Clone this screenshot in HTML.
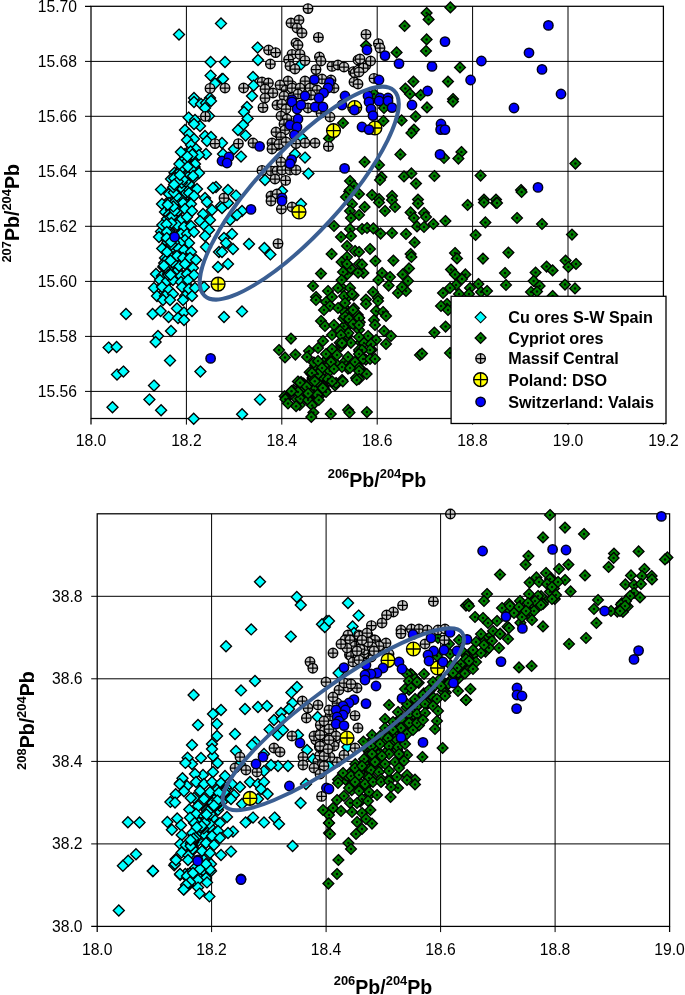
<!DOCTYPE html>
<html><head><meta charset="utf-8"><title>Pb isotope plots</title>
<style>
html,body{margin:0;padding:0;background:#fff}
svg{display:block}
text{font-family:"Liberation Sans",Arial,Helvetica,sans-serif;fill:#000}
.tk{font-size:15.7px}
.ti{font-size:19.6px;font-weight:bold}
.su{font-size:12.9px;font-weight:bold}
.lg{font-size:16.2px;font-weight:bold}
</style></head><body>
<svg width="685" height="995" viewBox="0 0 685 995">
<defs>
<path id="d" d="M0,-5.5L5.5,0L0,5.5L-5.5,0Z"/>
<g id="gd"><path d="M0,-5.4L5.4,0L0,5.4L-5.4,0Z" fill="#008000" stroke="#000" stroke-width="1.35"/><circle r="1.25" fill="#001000"/></g>
<g id="mc"><circle r="4.75" fill="#c8c8c8" stroke="#000" stroke-width="1.4"/><path d="M-4.75,0H4.75M0,-4.75V4.75" stroke="#000" stroke-width="1.25" fill="none"/></g>
<g id="yc"><circle r="6.9" fill="#ffff00" stroke="#000" stroke-width="1.4"/><path d="M-6.9,0H6.9M0,-6.9V6.9" stroke="#000" stroke-width="1.3" fill="none"/></g>
<clipPath id="ct"><rect x="84" y="0" width="590" height="426"/></clipPath>
<clipPath id="cb"><rect x="90" y="505" width="590" height="428"/></clipPath>
</defs>
<rect width="685" height="995" fill="#fff"/>

<g stroke="#000" stroke-width="1" fill="none">
<path d="M186.4,6.3V424.6"/>
<path d="M281.8,6.3V424.6"/>
<path d="M377.2,6.3V424.6"/>
<path d="M472.6,6.3V424.6"/>
<path d="M568,6.3V424.6"/>
<path d="M85,61.4H663.4"/>
<path d="M85,116.3H663.4"/>
<path d="M85,171.3H663.4"/>
<path d="M85,226.3H663.4"/>
<path d="M85,281.4H663.4"/>
<path d="M85,336.4H663.4"/>
<path d="M85,391.4H663.4"/>
</g>
<g stroke="#000" stroke-width="1.25" fill="none">
<rect x="91" y="6.3" width="572.4" height="412.2"/>
<path d="M85,6.3H91 M91,418.6V424.6 M663.4,418.6V424.6"/>
</g>
<g clip-path="url(#ct)">
<g fill="#00ffff" stroke="#000" stroke-width="1.35">
<use href="#d" x="173.9" y="250.7"/>
<use href="#d" x="162.6" y="285.6"/>
<use href="#d" x="192.6" y="168.9"/>
<use href="#d" x="176.8" y="203.9"/>
<use href="#d" x="182.5" y="255.6"/>
<use href="#d" x="182.9" y="225.3"/>
<use href="#d" x="181.3" y="232.3"/>
<use href="#d" x="172.4" y="267.7"/>
<use href="#d" x="177.6" y="177.8"/>
<use href="#d" x="187.2" y="194.7"/>
<use href="#d" x="177.6" y="180.8"/>
<use href="#d" x="175.2" y="186"/>
<use href="#d" x="173.4" y="255.1"/>
<use href="#d" x="189.2" y="185.9"/>
<use href="#d" x="182.3" y="184.8"/>
<use href="#d" x="193.1" y="178.4"/>
<use href="#d" x="185.7" y="196"/>
<use href="#d" x="183.7" y="198.5"/>
<use href="#d" x="164.4" y="282.2"/>
<use href="#d" x="179.2" y="245.6"/>
<use href="#d" x="186.4" y="207.7"/>
<use href="#d" x="174.5" y="254.3"/>
<use href="#d" x="168.4" y="201.5"/>
<use href="#d" x="174.9" y="220"/>
<use href="#d" x="178.7" y="194.4"/>
<use href="#d" x="187" y="241.8"/>
<use href="#d" x="164.2" y="292.7"/>
<use href="#d" x="169.7" y="279.9"/>
<use href="#d" x="177.3" y="212.4"/>
<use href="#d" x="187.8" y="286.1"/>
<use href="#d" x="191.5" y="155.9"/>
<use href="#d" x="171.7" y="194.2"/>
<use href="#d" x="187.7" y="232.4"/>
<use href="#d" x="188.2" y="188.6"/>
<use href="#d" x="188" y="277.4"/>
<use href="#d" x="194.6" y="167.1"/>
<use href="#d" x="185.1" y="248.6"/>
<use href="#d" x="182.8" y="221"/>
<use href="#d" x="169.3" y="213.1"/>
<use href="#d" x="190.5" y="176.7"/>
<use href="#d" x="185.2" y="203.1"/>
<use href="#d" x="176.9" y="275.5"/>
<use href="#d" x="174.5" y="172.7"/>
<use href="#d" x="183.3" y="165"/>
<use href="#d" x="192.1" y="157.6"/>
<use href="#d" x="187.5" y="173.3"/>
<use href="#d" x="180.2" y="192.7"/>
<use href="#d" x="180.4" y="273.5"/>
<use href="#d" x="179" y="34.6"/>
<use href="#d" x="221" y="23.4"/>
<use href="#d" x="210.6" y="62"/>
<use href="#d" x="210.6" y="75.6"/>
<use href="#d" x="215" y="83.6"/>
<use href="#d" x="222" y="79"/>
<use href="#d" x="194" y="98"/>
<use href="#d" x="210" y="98"/>
<use href="#d" x="257.6" y="47.6"/>
<use href="#d" x="258" y="60"/>
<use href="#d" x="225" y="62"/>
<use href="#d" x="223" y="79"/>
<use href="#d" x="253" y="77"/>
<use href="#d" x="253.6" y="85.6"/>
<use href="#d" x="252" y="96"/>
<use href="#d" x="301" y="64.4"/>
<use href="#d" x="194" y="102"/>
<use href="#d" x="201" y="104"/>
<use href="#d" x="206" y="103"/>
<use href="#d" x="211" y="101"/>
<use href="#d" x="205" y="108"/>
<use href="#d" x="188.6" y="117.6"/>
<use href="#d" x="195" y="120"/>
<use href="#d" x="200" y="126"/>
<use href="#d" x="209" y="116"/>
<use href="#d" x="194" y="124"/>
<use href="#d" x="185" y="130"/>
<use href="#d" x="189" y="134"/>
<use href="#d" x="194" y="139"/>
<use href="#d" x="205" y="136"/>
<use href="#d" x="211" y="137"/>
<use href="#d" x="207" y="141"/>
<use href="#d" x="187" y="140"/>
<use href="#d" x="191" y="145"/>
<use href="#d" x="196" y="149"/>
<use href="#d" x="206" y="154"/>
<use href="#d" x="185" y="154"/>
<use href="#d" x="189" y="157"/>
<use href="#d" x="194" y="158"/>
<use href="#d" x="199" y="155"/>
<use href="#d" x="183" y="160"/>
<use href="#d" x="186" y="164"/>
<use href="#d" x="195" y="164"/>
<use href="#d" x="191" y="169"/>
<use href="#d" x="199" y="173"/>
<use href="#d" x="181" y="170"/>
<use href="#d" x="185" y="173"/>
<use href="#d" x="188" y="177"/>
<use href="#d" x="193" y="176"/>
<use href="#d" x="176" y="175"/>
<use href="#d" x="171" y="179"/>
<use href="#d" x="179" y="180"/>
<use href="#d" x="175" y="183"/>
<use href="#d" x="183" y="183"/>
<use href="#d" x="189" y="184"/>
<use href="#d" x="161" y="189.6"/>
<use href="#d" x="173" y="188"/>
<use href="#d" x="178" y="190"/>
<use href="#d" x="185" y="189"/>
<use href="#d" x="197" y="189"/>
<use href="#d" x="216" y="187"/>
<use href="#d" x="213" y="188"/>
<use href="#d" x="169" y="194"/>
<use href="#d" x="177" y="196"/>
<use href="#d" x="183" y="195"/>
<use href="#d" x="189" y="193"/>
<use href="#d" x="194" y="196"/>
<use href="#d" x="205" y="198"/>
<use href="#d" x="181" y="199"/>
<use href="#d" x="247" y="107"/>
<use href="#d" x="244" y="112"/>
<use href="#d" x="247.6" y="118.4"/>
<use href="#d" x="243" y="125"/>
<use href="#d" x="238" y="130"/>
<use href="#d" x="245.6" y="135.6"/>
<use href="#d" x="222" y="143"/>
<use href="#d" x="234" y="149"/>
<use href="#d" x="241" y="156.6"/>
<use href="#d" x="223" y="154"/>
<use href="#d" x="305" y="157.6"/>
<use href="#d" x="308.4" y="173.6"/>
<use href="#d" x="265" y="180"/>
<use href="#d" x="228" y="190"/>
<use href="#d" x="236" y="195.6"/>
<use href="#d" x="302" y="138"/>
<use href="#d" x="295" y="154"/>
<use href="#d" x="282" y="191"/>
<use href="#d" x="162" y="204"/>
<use href="#d" x="169" y="203"/>
<use href="#d" x="176" y="202"/>
<use href="#d" x="183" y="203"/>
<use href="#d" x="191" y="204"/>
<use href="#d" x="207" y="202"/>
<use href="#d" x="221" y="206"/>
<use href="#d" x="165" y="212"/>
<use href="#d" x="171" y="210"/>
<use href="#d" x="178" y="211"/>
<use href="#d" x="185" y="209"/>
<use href="#d" x="192" y="211"/>
<use href="#d" x="203" y="214"/>
<use href="#d" x="212" y="210"/>
<use href="#d" x="167" y="219"/>
<use href="#d" x="174" y="218"/>
<use href="#d" x="181" y="220"/>
<use href="#d" x="187" y="217"/>
<use href="#d" x="210" y="220"/>
<use href="#d" x="200" y="221"/>
<use href="#d" x="177" y="225"/>
<use href="#d" x="184" y="227"/>
<use href="#d" x="191" y="226"/>
<use href="#d" x="205" y="226"/>
<use href="#d" x="209" y="230"/>
<use href="#d" x="161" y="231.6"/>
<use href="#d" x="159" y="237"/>
<use href="#d" x="168" y="233"/>
<use href="#d" x="181" y="234"/>
<use href="#d" x="187" y="234"/>
<use href="#d" x="194" y="232"/>
<use href="#d" x="205" y="236"/>
<use href="#d" x="167" y="240"/>
<use href="#d" x="185" y="240"/>
<use href="#d" x="189" y="243"/>
<use href="#d" x="180" y="243"/>
<use href="#d" x="206" y="247"/>
<use href="#d" x="219" y="252"/>
<use href="#d" x="166" y="251"/>
<use href="#d" x="171" y="249"/>
<use href="#d" x="178" y="248"/>
<use href="#d" x="184" y="250"/>
<use href="#d" x="191" y="252"/>
<use href="#d" x="165" y="258"/>
<use href="#d" x="171" y="257"/>
<use href="#d" x="177" y="256"/>
<use href="#d" x="183" y="258"/>
<use href="#d" x="190" y="258"/>
<use href="#d" x="196" y="260"/>
<use href="#d" x="166" y="264"/>
<use href="#d" x="173" y="265"/>
<use href="#d" x="179" y="266"/>
<use href="#d" x="185" y="264"/>
<use href="#d" x="193" y="268"/>
<use href="#d" x="218" y="267"/>
<use href="#d" x="156" y="274"/>
<use href="#d" x="162" y="276"/>
<use href="#d" x="168" y="274"/>
<use href="#d" x="175" y="273"/>
<use href="#d" x="181" y="276"/>
<use href="#d" x="187" y="274"/>
<use href="#d" x="194" y="275"/>
<use href="#d" x="160" y="280"/>
<use href="#d" x="167" y="281"/>
<use href="#d" x="173" y="280"/>
<use href="#d" x="181" y="282"/>
<use href="#d" x="188" y="280"/>
<use href="#d" x="154" y="288"/>
<use href="#d" x="162" y="287"/>
<use href="#d" x="169" y="290"/>
<use href="#d" x="182" y="287"/>
<use href="#d" x="189" y="289"/>
<use href="#d" x="195" y="288"/>
<use href="#d" x="204" y="287"/>
<use href="#d" x="157" y="296"/>
<use href="#d" x="165" y="296"/>
<use href="#d" x="173" y="294"/>
<use href="#d" x="185" y="296"/>
<use href="#d" x="192" y="296"/>
<use href="#d" x="228" y="203"/>
<use href="#d" x="222" y="208"/>
<use href="#d" x="242" y="211"/>
<use href="#d" x="237" y="215"/>
<use href="#d" x="230" y="220"/>
<use href="#d" x="232" y="234"/>
<use href="#d" x="224" y="238"/>
<use href="#d" x="226" y="243"/>
<use href="#d" x="233" y="249"/>
<use href="#d" x="222" y="252"/>
<use href="#d" x="249" y="244"/>
<use href="#d" x="264.4" y="248"/>
<use href="#d" x="270.4" y="254.4"/>
<use href="#d" x="228" y="264"/>
<use href="#d" x="301" y="204"/>
<use href="#d" x="163" y="300"/>
<use href="#d" x="170" y="300"/>
<use href="#d" x="183" y="300"/>
<use href="#d" x="126" y="314"/>
<use href="#d" x="152.6" y="314"/>
<use href="#d" x="160.6" y="311"/>
<use href="#d" x="168.6" y="317"/>
<use href="#d" x="177" y="308.4"/>
<use href="#d" x="184" y="312.4"/>
<use href="#d" x="192" y="311"/>
<use href="#d" x="178" y="318"/>
<use href="#d" x="184" y="320"/>
<use href="#d" x="171" y="331"/>
<use href="#d" x="158" y="336"/>
<use href="#d" x="155.6" y="342"/>
<use href="#d" x="108.6" y="347.6"/>
<use href="#d" x="116.6" y="347"/>
<use href="#d" x="170" y="360.6"/>
<use href="#d" x="117" y="374.6"/>
<use href="#d" x="123.4" y="371.6"/>
<use href="#d" x="200.4" y="371.6"/>
<use href="#d" x="154" y="385.6"/>
<use href="#d" x="149.4" y="399.6"/>
<use href="#d" x="242" y="311.4"/>
<use href="#d" x="224" y="317"/>
<use href="#d" x="260" y="399.6"/>
<use href="#d" x="112.5" y="407.3"/>
<use href="#d" x="161.1" y="410.2"/>
<use href="#d" x="193.7" y="418.7"/>
<use href="#d" x="242.1" y="414.2"/>
<use href="#d" x="190.6" y="151.5"/>
<use href="#d" x="175.1" y="188.1"/>
<use href="#d" x="176.9" y="188.8"/>
<use href="#d" x="167.5" y="242.3"/>
<use href="#d" x="169.7" y="261.2"/>
<use href="#d" x="179.8" y="187.8"/>
<use href="#d" x="170.8" y="273.8"/>
<use href="#d" x="173.3" y="203.4"/>
<use href="#d" x="182.7" y="160.7"/>
<use href="#d" x="168" y="268.5"/>
<use href="#d" x="168.9" y="214.4"/>
<use href="#d" x="163.2" y="266.9"/>
<use href="#d" x="162.3" y="225.1"/>
<use href="#d" x="170.1" y="217.1"/>
<use href="#d" x="174" y="242.3"/>
<use href="#d" x="169.4" y="230.5"/>
<use href="#d" x="165.2" y="267.4"/>
<use href="#d" x="176.8" y="195.9"/>
<use href="#d" x="168.3" y="275"/>
<use href="#d" x="180.8" y="187.2"/>
<use href="#d" x="180.2" y="171.5"/>
<use href="#d" x="170.5" y="263.1"/>
<use href="#d" x="164.2" y="263"/>
<use href="#d" x="181.8" y="167.9"/>
<use href="#d" x="173.8" y="192.4"/>
<use href="#d" x="185.7" y="181.7"/>
<use href="#d" x="171.4" y="244.5"/>
<use href="#d" x="172" y="216.4"/>
<use href="#d" x="185.2" y="163.3"/>
<use href="#d" x="187.8" y="166.7"/>
<use href="#d" x="167.4" y="259.2"/>
<use href="#d" x="181.8" y="182.7"/>
<use href="#d" x="163.9" y="265.7"/>
<use href="#d" x="180.9" y="152"/>
<use href="#d" x="172.6" y="262.2"/>
<use href="#d" x="192.3" y="154.5"/>
<use href="#d" x="162.2" y="248.4"/>
<use href="#d" x="177.4" y="181"/>
<use href="#d" x="174.7" y="210.8"/>
<use href="#d" x="172.3" y="237"/>
<use href="#d" x="173.3" y="206.4"/>
<use href="#d" x="167" y="251.9"/>
<use href="#d" x="169.7" y="231"/>
<use href="#d" x="183.1" y="179.5"/>
<use href="#d" x="179.4" y="163.9"/>
<use href="#d" x="171.4" y="223"/>
<use href="#d" x="166.5" y="224.2"/>
<use href="#d" x="167.7" y="204.7"/>
<use href="#d" x="170.5" y="260.4"/>
<use href="#d" x="174.2" y="178.3"/>
<use href="#d" x="173.2" y="187.2"/>
<use href="#d" x="171.3" y="234.5"/>
<use href="#d" x="166.8" y="231.9"/>
<use href="#d" x="187.3" y="156.5"/>
<use href="#d" x="166.7" y="238.1"/>
<use href="#d" x="170.8" y="241.9"/>
<use href="#d" x="170.5" y="274.8"/>
<use href="#d" x="177.8" y="181.6"/>
<use href="#d" x="174.1" y="184.6"/>
<use href="#d" x="179.9" y="175"/>
</g>
<g>
<use href="#gd" x="309.7" y="372.3"/>
<use href="#gd" x="299.8" y="405"/>
<use href="#gd" x="308.9" y="388.7"/>
<use href="#gd" x="315.7" y="365.5"/>
<use href="#gd" x="301.5" y="388.6"/>
<use href="#gd" x="329.8" y="361.5"/>
<use href="#gd" x="312.2" y="383.2"/>
<use href="#gd" x="330" y="352.1"/>
<use href="#gd" x="297" y="390.7"/>
<use href="#gd" x="329.4" y="369.9"/>
<use href="#gd" x="340.9" y="346.3"/>
<use href="#gd" x="303.5" y="392.3"/>
<use href="#gd" x="306.1" y="398.8"/>
<use href="#gd" x="308.3" y="385.3"/>
<use href="#gd" x="321.6" y="383.2"/>
<use href="#gd" x="344.7" y="361.7"/>
<use href="#gd" x="293.6" y="389.8"/>
<use href="#gd" x="332" y="357.1"/>
<use href="#gd" x="302.5" y="396.3"/>
<use href="#gd" x="304.7" y="394.4"/>
<use href="#gd" x="313.8" y="387.8"/>
<use href="#gd" x="314.6" y="374.8"/>
<use href="#gd" x="296.8" y="399.1"/>
<use href="#gd" x="335.2" y="362.9"/>
<use href="#gd" x="321.5" y="372.9"/>
<use href="#gd" x="300.4" y="398.7"/>
<use href="#gd" x="326.9" y="359.2"/>
<use href="#gd" x="323.8" y="362.5"/>
<use href="#gd" x="308.4" y="388"/>
<use href="#gd" x="314.3" y="386.3"/>
<use href="#gd" x="328.7" y="362.9"/>
<use href="#gd" x="312.7" y="377.6"/>
<use href="#gd" x="331" y="365.5"/>
<use href="#gd" x="326.5" y="367.7"/>
<use href="#gd" x="320.7" y="376.8"/>
<use href="#gd" x="329.8" y="370.9"/>
<use href="#gd" x="339.7" y="342.7"/>
<use href="#gd" x="315.4" y="365.6"/>
<use href="#gd" x="311.7" y="374.2"/>
<use href="#gd" x="313.8" y="362.5"/>
<use href="#gd" x="343.8" y="326.3"/>
<use href="#gd" x="363.4" y="272.9"/>
<use href="#gd" x="352.1" y="311"/>
<use href="#gd" x="354" y="308.3"/>
<use href="#gd" x="345.9" y="309.4"/>
<use href="#gd" x="348.9" y="313.1"/>
<use href="#gd" x="347.4" y="264.9"/>
<use href="#gd" x="347.5" y="274"/>
<use href="#gd" x="347.2" y="336.3"/>
<use href="#gd" x="342" y="287.7"/>
<use href="#gd" x="352" y="323.2"/>
<use href="#gd" x="353.6" y="295.3"/>
<use href="#gd" x="346.6" y="298"/>
<use href="#gd" x="348.4" y="333.1"/>
<use href="#gd" x="350.6" y="268.4"/>
<use href="#gd" x="343.4" y="318.4"/>
<use href="#gd" x="343.9" y="342.6"/>
<use href="#gd" x="344.9" y="316.3"/>
<use href="#gd" x="341.9" y="309.2"/>
<use href="#gd" x="357.8" y="315"/>
<use href="#gd" x="350.9" y="342.8"/>
<use href="#gd" x="358.1" y="272.7"/>
<use href="#gd" x="312.7" y="378.6"/>
<use href="#gd" x="304" y="384.9"/>
<use href="#gd" x="315.2" y="375.4"/>
<use href="#gd" x="348" y="368.6"/>
<use href="#gd" x="329" y="304.7"/>
<use href="#gd" x="335" y="385.5"/>
<use href="#gd" x="360.8" y="342.5"/>
<use href="#gd" x="370.7" y="341.9"/>
<use href="#gd" x="360.5" y="369.5"/>
<use href="#gd" x="315.3" y="396.6"/>
<use href="#gd" x="349.2" y="191.6"/>
<use href="#gd" x="359.8" y="322.2"/>
<use href="#gd" x="308.6" y="383.8"/>
<use href="#gd" x="308.9" y="394.9"/>
<use href="#gd" x="316.4" y="394.5"/>
<use href="#gd" x="297.9" y="381.5"/>
<use href="#gd" x="350.8" y="323.5"/>
<use href="#gd" x="359.4" y="351.5"/>
<use href="#gd" x="315.4" y="381.4"/>
<use href="#gd" x="359.2" y="368.4"/>
<use href="#gd" x="315.3" y="388.4"/>
<use href="#gd" x="303.9" y="387.1"/>
<use href="#gd" x="368.1" y="338.6"/>
<use href="#gd" x="360.4" y="356"/>
<use href="#gd" x="365.8" y="359.7"/>
<use href="#gd" x="319.8" y="395"/>
<use href="#gd" x="357.3" y="362.6"/>
<use href="#gd" x="323.7" y="386.2"/>
<use href="#gd" x="319.8" y="395.7"/>
<use href="#gd" x="315.1" y="391.4"/>
<use href="#gd" x="311.1" y="395.4"/>
<use href="#gd" x="323.6" y="387.8"/>
<use href="#gd" x="360.5" y="368.7"/>
<use href="#gd" x="358.1" y="376.5"/>
<use href="#gd" x="317.4" y="382.4"/>
<use href="#gd" x="371.7" y="349.8"/>
<use href="#gd" x="284.6" y="396.3"/>
<use href="#gd" x="303.6" y="383.6"/>
<use href="#gd" x="325" y="389.9"/>
<use href="#gd" x="308.9" y="395.9"/>
<use href="#gd" x="361.3" y="350.9"/>
<use href="#gd" x="450.4" y="7.4"/>
<use href="#gd" x="426.6" y="13"/>
<use href="#gd" x="428.6" y="19.4"/>
<use href="#gd" x="404.6" y="26"/>
<use href="#gd" x="426.6" y="39.4"/>
<use href="#gd" x="426" y="51"/>
<use href="#gd" x="396.6" y="52.4"/>
<use href="#gd" x="366" y="45.6"/>
<use href="#gd" x="460" y="67.4"/>
<use href="#gd" x="413.4" y="81.6"/>
<use href="#gd" x="448" y="81.6"/>
<use href="#gd" x="405.4" y="88.6"/>
<use href="#gd" x="410" y="94"/>
<use href="#gd" x="420.6" y="95"/>
<use href="#gd" x="453" y="99"/>
<use href="#gd" x="374" y="94"/>
<use href="#gd" x="343" y="123"/>
<use href="#gd" x="329" y="138.4"/>
<use href="#gd" x="350" y="181"/>
<use href="#gd" x="354" y="186"/>
<use href="#gd" x="350" y="190"/>
<use href="#gd" x="346" y="197"/>
<use href="#gd" x="453" y="101.6"/>
<use href="#gd" x="427" y="107.4"/>
<use href="#gd" x="384" y="108"/>
<use href="#gd" x="415.6" y="116.4"/>
<use href="#gd" x="383.4" y="121"/>
<use href="#gd" x="401.6" y="120.4"/>
<use href="#gd" x="414" y="129.6"/>
<use href="#gd" x="411.4" y="133"/>
<use href="#gd" x="400.4" y="154.4"/>
<use href="#gd" x="461.4" y="152"/>
<use href="#gd" x="458.4" y="158.6"/>
<use href="#gd" x="444" y="158"/>
<use href="#gd" x="364.6" y="162"/>
<use href="#gd" x="379" y="165"/>
<use href="#gd" x="411.4" y="173.4"/>
<use href="#gd" x="404" y="176.4"/>
<use href="#gd" x="434.4" y="176"/>
<use href="#gd" x="480.6" y="175.6"/>
<use href="#gd" x="381.4" y="177"/>
<use href="#gd" x="380" y="180"/>
<use href="#gd" x="416" y="183.6"/>
<use href="#gd" x="372" y="195"/>
<use href="#gd" x="392" y="196"/>
<use href="#gd" x="379" y="199"/>
<use href="#gd" x="418" y="199.6"/>
<use href="#gd" x="484" y="199.6"/>
<use href="#gd" x="359" y="194"/>
<use href="#gd" x="575.4" y="163.6"/>
<use href="#gd" x="521" y="190"/>
<use href="#gd" x="521.6" y="192"/>
<use href="#gd" x="496" y="199.6"/>
<use href="#gd" x="352" y="204"/>
<use href="#gd" x="350" y="211"/>
<use href="#gd" x="351" y="218"/>
<use href="#gd" x="334" y="226"/>
<use href="#gd" x="350" y="229"/>
<use href="#gd" x="341" y="237"/>
<use href="#gd" x="351" y="236"/>
<use href="#gd" x="347" y="246"/>
<use href="#gd" x="331.6" y="254"/>
<use href="#gd" x="355" y="251"/>
<use href="#gd" x="347" y="257"/>
<use href="#gd" x="341.6" y="262"/>
<use href="#gd" x="347" y="264"/>
<use href="#gd" x="321" y="273.6"/>
<use href="#gd" x="343" y="272"/>
<use href="#gd" x="359" y="264"/>
<use href="#gd" x="341.6" y="280"/>
<use href="#gd" x="313" y="286"/>
<use href="#gd" x="338" y="288"/>
<use href="#gd" x="328" y="291"/>
<use href="#gd" x="350" y="288"/>
<use href="#gd" x="316" y="297"/>
<use href="#gd" x="332" y="297"/>
<use href="#gd" x="344" y="296"/>
<use href="#gd" x="352" y="294"/>
<use href="#gd" x="364.6" y="207"/>
<use href="#gd" x="379" y="202.4"/>
<use href="#gd" x="392" y="200"/>
<use href="#gd" x="395" y="207"/>
<use href="#gd" x="385" y="211"/>
<use href="#gd" x="418" y="203.6"/>
<use href="#gd" x="410.6" y="212.4"/>
<use href="#gd" x="424" y="213"/>
<use href="#gd" x="414" y="218"/>
<use href="#gd" x="426" y="217"/>
<use href="#gd" x="433.4" y="224"/>
<use href="#gd" x="445.4" y="221"/>
<use href="#gd" x="417" y="226.4"/>
<use href="#gd" x="424" y="227"/>
<use href="#gd" x="467.6" y="205"/>
<use href="#gd" x="484" y="202.4"/>
<use href="#gd" x="496" y="203"/>
<use href="#gd" x="485.4" y="222.4"/>
<use href="#gd" x="475.6" y="235"/>
<use href="#gd" x="483" y="258.6"/>
<use href="#gd" x="362" y="229"/>
<use href="#gd" x="367" y="228"/>
<use href="#gd" x="373.4" y="228.4"/>
<use href="#gd" x="380.6" y="233.6"/>
<use href="#gd" x="392" y="233"/>
<use href="#gd" x="406" y="234"/>
<use href="#gd" x="414.6" y="242.4"/>
<use href="#gd" x="370" y="249"/>
<use href="#gd" x="410.6" y="254"/>
<use href="#gd" x="411.4" y="257"/>
<use href="#gd" x="375.4" y="261"/>
<use href="#gd" x="393.4" y="260.6"/>
<use href="#gd" x="362" y="264.4"/>
<use href="#gd" x="409" y="268.4"/>
<use href="#gd" x="402.6" y="274.4"/>
<use href="#gd" x="382" y="273"/>
<use href="#gd" x="390" y="277"/>
<use href="#gd" x="378.4" y="280"/>
<use href="#gd" x="408" y="281"/>
<use href="#gd" x="388.6" y="285.6"/>
<use href="#gd" x="373" y="292"/>
<use href="#gd" x="398" y="293"/>
<use href="#gd" x="406" y="291"/>
<use href="#gd" x="402" y="287"/>
<use href="#gd" x="378" y="298"/>
<use href="#gd" x="455" y="253"/>
<use href="#gd" x="457" y="258.4"/>
<use href="#gd" x="451" y="269.6"/>
<use href="#gd" x="455" y="274.4"/>
<use href="#gd" x="465.4" y="274.4"/>
<use href="#gd" x="462" y="279"/>
<use href="#gd" x="478.4" y="284"/>
<use href="#gd" x="456" y="285"/>
<use href="#gd" x="450" y="288"/>
<use href="#gd" x="443" y="293"/>
<use href="#gd" x="470" y="288"/>
<use href="#gd" x="459" y="294"/>
<use href="#gd" x="469" y="294"/>
<use href="#gd" x="481" y="292"/>
<use href="#gd" x="487" y="291"/>
<use href="#gd" x="359" y="215"/>
<use href="#gd" x="359" y="252"/>
<use href="#gd" x="366" y="299.6"/>
<use href="#gd" x="497" y="203"/>
<use href="#gd" x="517" y="218"/>
<use href="#gd" x="542" y="224"/>
<use href="#gd" x="572" y="234.6"/>
<use href="#gd" x="508.4" y="252.6"/>
<use href="#gd" x="565.6" y="260.6"/>
<use href="#gd" x="576" y="264"/>
<use href="#gd" x="568.4" y="267"/>
<use href="#gd" x="546.6" y="266.6"/>
<use href="#gd" x="552.6" y="270.4"/>
<use href="#gd" x="535.6" y="272.6"/>
<use href="#gd" x="505" y="273"/>
<use href="#gd" x="533.6" y="281"/>
<use href="#gd" x="506" y="285"/>
<use href="#gd" x="539.6" y="286"/>
<use href="#gd" x="565" y="284.6"/>
<use href="#gd" x="575" y="288.4"/>
<use href="#gd" x="531" y="292"/>
<use href="#gd" x="537" y="291.6"/>
<use href="#gd" x="552.6" y="296"/>
<use href="#gd" x="316" y="300"/>
<use href="#gd" x="326" y="302"/>
<use href="#gd" x="330" y="306"/>
<use href="#gd" x="338" y="308"/>
<use href="#gd" x="345" y="303"/>
<use href="#gd" x="353" y="310"/>
<use href="#gd" x="324" y="310"/>
<use href="#gd" x="321" y="321"/>
<use href="#gd" x="325" y="326"/>
<use href="#gd" x="334" y="325"/>
<use href="#gd" x="349" y="319"/>
<use href="#gd" x="353" y="324"/>
<use href="#gd" x="359" y="318"/>
<use href="#gd" x="340" y="331"/>
<use href="#gd" x="332" y="335"/>
<use href="#gd" x="341" y="335"/>
<use href="#gd" x="359" y="330"/>
<use href="#gd" x="291" y="338.6"/>
<use href="#gd" x="323" y="341"/>
<use href="#gd" x="318" y="348"/>
<use href="#gd" x="342" y="343"/>
<use href="#gd" x="332" y="349"/>
<use href="#gd" x="279" y="350"/>
<use href="#gd" x="309" y="351"/>
<use href="#gd" x="285" y="357.4"/>
<use href="#gd" x="295.4" y="354.6"/>
<use href="#gd" x="326" y="354"/>
<use href="#gd" x="337" y="355"/>
<use href="#gd" x="348" y="357"/>
<use href="#gd" x="307" y="357"/>
<use href="#gd" x="318" y="361"/>
<use href="#gd" x="331" y="362"/>
<use href="#gd" x="359" y="350"/>
<use href="#gd" x="355" y="362"/>
<use href="#gd" x="342" y="367"/>
<use href="#gd" x="322" y="368"/>
<use href="#gd" x="334" y="369"/>
<use href="#gd" x="359" y="368"/>
<use href="#gd" x="318" y="374"/>
<use href="#gd" x="312" y="373"/>
<use href="#gd" x="328" y="379"/>
<use href="#gd" x="342" y="380"/>
<use href="#gd" x="356" y="378"/>
<use href="#gd" x="314" y="380"/>
<use href="#gd" x="301" y="382"/>
<use href="#gd" x="306" y="386"/>
<use href="#gd" x="292" y="391"/>
<use href="#gd" x="298" y="392"/>
<use href="#gd" x="322" y="388"/>
<use href="#gd" x="314" y="390"/>
<use href="#gd" x="310" y="393"/>
<use href="#gd" x="286" y="398"/>
<use href="#gd" x="318" y="395"/>
<use href="#gd" x="326" y="392"/>
<use href="#gd" x="336" y="383"/>
<use href="#gd" x="350" y="368"/>
<use href="#gd" x="366" y="304"/>
<use href="#gd" x="378" y="301"/>
<use href="#gd" x="376" y="311"/>
<use href="#gd" x="383" y="312"/>
<use href="#gd" x="386" y="316"/>
<use href="#gd" x="374" y="320"/>
<use href="#gd" x="359" y="318"/>
<use href="#gd" x="359" y="325"/>
<use href="#gd" x="375" y="325"/>
<use href="#gd" x="384" y="331"/>
<use href="#gd" x="391" y="336"/>
<use href="#gd" x="368" y="336"/>
<use href="#gd" x="359" y="337"/>
<use href="#gd" x="376" y="340"/>
<use href="#gd" x="386" y="344"/>
<use href="#gd" x="364" y="343"/>
<use href="#gd" x="371" y="344"/>
<use href="#gd" x="370" y="350"/>
<use href="#gd" x="362" y="350"/>
<use href="#gd" x="359" y="354"/>
<use href="#gd" x="363" y="359"/>
<use href="#gd" x="370" y="359"/>
<use href="#gd" x="375" y="359"/>
<use href="#gd" x="366.6" y="374"/>
<use href="#gd" x="359" y="371"/>
<use href="#gd" x="359" y="379"/>
<use href="#gd" x="447" y="304"/>
<use href="#gd" x="441" y="306"/>
<use href="#gd" x="448" y="310"/>
<use href="#gd" x="445.6" y="326.6"/>
<use href="#gd" x="434.4" y="332.6"/>
<use href="#gd" x="420" y="355"/>
<use href="#gd" x="422" y="353.6"/>
<use href="#gd" x="450" y="353"/>
<use href="#gd" x="300.1" y="382.7"/>
<use href="#gd" x="306.7" y="386.7"/>
<use href="#gd" x="314.8" y="381.3"/>
<use href="#gd" x="322.8" y="388"/>
<use href="#gd" x="332.1" y="381.3"/>
<use href="#gd" x="342.8" y="381.3"/>
<use href="#gd" x="356.7" y="380"/>
<use href="#gd" x="291.5" y="391.2"/>
<use href="#gd" x="285.4" y="399.2"/>
<use href="#gd" x="288" y="403.5"/>
<use href="#gd" x="296.1" y="406.2"/>
<use href="#gd" x="308.1" y="400"/>
<use href="#gd" x="317.4" y="394.7"/>
<use href="#gd" x="312.1" y="405.4"/>
<use href="#gd" x="313.4" y="412.6"/>
<use href="#gd" x="311.3" y="416.9"/>
<use href="#gd" x="330.8" y="413.9"/>
<use href="#gd" x="348.1" y="409.9"/>
<use href="#gd" x="349.5" y="412.6"/>
<use href="#gd" x="366.9" y="412.1"/>
<use href="#gd" x="308.1" y="393.4"/>
<use href="#gd" x="318.8" y="400"/>
</g>
<g>
<use href="#mc" x="288.7" y="89.1"/>
<use href="#mc" x="365.7" y="65.5"/>
<use href="#mc" x="277.2" y="145.4"/>
<use href="#mc" x="279.9" y="134.6"/>
<use href="#mc" x="274.7" y="171.3"/>
<use href="#mc" x="267.3" y="91.3"/>
<use href="#mc" x="353.4" y="71.6"/>
<use href="#mc" x="291.8" y="85.6"/>
<use href="#mc" x="210" y="88.4"/>
<use href="#mc" x="308" y="8.6"/>
<use href="#mc" x="291" y="23"/>
<use href="#mc" x="299" y="20"/>
<use href="#mc" x="297" y="28"/>
<use href="#mc" x="302" y="33"/>
<use href="#mc" x="318.4" y="37.4"/>
<use href="#mc" x="296" y="43"/>
<use href="#mc" x="298" y="45"/>
<use href="#mc" x="268.6" y="50"/>
<use href="#mc" x="275.6" y="52.6"/>
<use href="#mc" x="292" y="54.4"/>
<use href="#mc" x="300" y="54.4"/>
<use href="#mc" x="319.4" y="57"/>
<use href="#mc" x="288.6" y="59.6"/>
<use href="#mc" x="305" y="60.6"/>
<use href="#mc" x="321" y="61"/>
<use href="#mc" x="270.4" y="64"/>
<use href="#mc" x="290" y="66"/>
<use href="#mc" x="295" y="69"/>
<use href="#mc" x="332" y="66.4"/>
<use href="#mc" x="338" y="65"/>
<use href="#mc" x="344" y="67"/>
<use href="#mc" x="316" y="69.6"/>
<use href="#mc" x="358" y="60"/>
<use href="#mc" x="355" y="73"/>
<use href="#mc" x="358.6" y="70"/>
<use href="#mc" x="288" y="81"/>
<use href="#mc" x="305" y="81"/>
<use href="#mc" x="322" y="79"/>
<use href="#mc" x="331" y="80"/>
<use href="#mc" x="262" y="82"/>
<use href="#mc" x="268.4" y="83"/>
<use href="#mc" x="280" y="85"/>
<use href="#mc" x="243.6" y="88"/>
<use href="#mc" x="225" y="88"/>
<use href="#mc" x="354" y="82"/>
<use href="#mc" x="358" y="84"/>
<use href="#mc" x="265" y="89"/>
<use href="#mc" x="273" y="93"/>
<use href="#mc" x="286" y="90"/>
<use href="#mc" x="292" y="88"/>
<use href="#mc" x="300" y="88"/>
<use href="#mc" x="310" y="88"/>
<use href="#mc" x="317" y="90"/>
<use href="#mc" x="334" y="88"/>
<use href="#mc" x="265" y="98"/>
<use href="#mc" x="284" y="96"/>
<use href="#mc" x="298" y="94"/>
<use href="#mc" x="311" y="95"/>
<use href="#mc" x="366" y="34.4"/>
<use href="#mc" x="378.4" y="43.6"/>
<use href="#mc" x="380" y="48"/>
<use href="#mc" x="370.6" y="61"/>
<use href="#mc" x="360" y="59"/>
<use href="#mc" x="363.4" y="68"/>
<use href="#mc" x="374" y="78.4"/>
<use href="#mc" x="359" y="72"/>
<use href="#mc" x="205.4" y="116.4"/>
<use href="#mc" x="215" y="143.6"/>
<use href="#mc" x="263" y="107.6"/>
<use href="#mc" x="277" y="105"/>
<use href="#mc" x="282" y="104"/>
<use href="#mc" x="286" y="109"/>
<use href="#mc" x="281" y="116"/>
<use href="#mc" x="287" y="119"/>
<use href="#mc" x="284" y="124"/>
<use href="#mc" x="276" y="132"/>
<use href="#mc" x="285" y="130"/>
<use href="#mc" x="281" y="137"/>
<use href="#mc" x="238.4" y="143.6"/>
<use href="#mc" x="253" y="143"/>
<use href="#mc" x="272" y="143"/>
<use href="#mc" x="272" y="149"/>
<use href="#mc" x="279" y="144"/>
<use href="#mc" x="286" y="142"/>
<use href="#mc" x="296" y="143.6"/>
<use href="#mc" x="305" y="143"/>
<use href="#mc" x="315" y="143"/>
<use href="#mc" x="328.4" y="146.4"/>
<use href="#mc" x="330" y="117"/>
<use href="#mc" x="308" y="108"/>
<use href="#mc" x="321" y="113"/>
<use href="#mc" x="262" y="170.4"/>
<use href="#mc" x="271" y="171"/>
<use href="#mc" x="277" y="171"/>
<use href="#mc" x="282" y="170"/>
<use href="#mc" x="290" y="170"/>
<use href="#mc" x="296" y="170"/>
<use href="#mc" x="281" y="162"/>
<use href="#mc" x="275" y="179"/>
<use href="#mc" x="285.6" y="180.4"/>
<use href="#mc" x="271" y="196"/>
<use href="#mc" x="277" y="194"/>
<use href="#mc" x="224" y="198"/>
<use href="#mc" x="271" y="201"/>
<use href="#mc" x="281.4" y="209"/>
<use href="#mc" x="292" y="207"/>
<use href="#mc" x="278" y="243.6"/>
</g>
<g>
<use href="#yc" x="333.5" y="130.6"/>
<use href="#yc" x="354.7" y="107.5"/>
<use href="#yc" x="374.9" y="128"/>
<use href="#yc" x="218.1" y="284.1"/>
<use href="#yc" x="299" y="212"/>
</g>
<g fill="#0000ff" stroke="#000018" stroke-width="1.5">
<circle cx="314.4" cy="79.6" r="4.65"/>
<circle cx="329.4" cy="82.4" r="4.65"/>
<circle cx="328" cy="88" r="4.65"/>
<circle cx="323.6" cy="93" r="4.65"/>
<circle cx="305" cy="96" r="4.65"/>
<circle cx="345" cy="96" r="4.65"/>
<circle cx="319" cy="98" r="4.65"/>
<circle cx="292" cy="99.6" r="4.65"/>
<circle cx="445" cy="41.6" r="4.65"/>
<circle cx="367" cy="50" r="4.65"/>
<circle cx="385" cy="55.6" r="4.65"/>
<circle cx="399" cy="63.6" r="4.65"/>
<circle cx="432" cy="66.4" r="4.65"/>
<circle cx="481.4" cy="61" r="4.65"/>
<circle cx="470.6" cy="80" r="4.65"/>
<circle cx="379" cy="80" r="4.65"/>
<circle cx="427.6" cy="91" r="4.65"/>
<circle cx="368" cy="96" r="4.65"/>
<circle cx="380" cy="98" r="4.65"/>
<circle cx="388" cy="98" r="4.65"/>
<circle cx="548.4" cy="25.4" r="4.65"/>
<circle cx="529" cy="52.8" r="4.65"/>
<circle cx="542" cy="69.4" r="4.65"/>
<circle cx="561" cy="94" r="4.65"/>
<circle cx="222" cy="161" r="4.65"/>
<circle cx="292" cy="102" r="4.65"/>
<circle cx="297" cy="109" r="4.65"/>
<circle cx="301" cy="105" r="4.65"/>
<circle cx="315" cy="107" r="4.65"/>
<circle cx="323" cy="107" r="4.65"/>
<circle cx="298" cy="119" r="4.65"/>
<circle cx="290" cy="125" r="4.65"/>
<circle cx="297" cy="127" r="4.65"/>
<circle cx="294.4" cy="135" r="4.65"/>
<circle cx="259.6" cy="146.4" r="4.65"/>
<circle cx="229" cy="157" r="4.65"/>
<circle cx="227" cy="163" r="4.65"/>
<circle cx="291.6" cy="159.6" r="4.65"/>
<circle cx="290" cy="163.6" r="4.65"/>
<circle cx="344.6" cy="168.4" r="4.65"/>
<circle cx="342" cy="105" r="4.65"/>
<circle cx="354.4" cy="110" r="4.65"/>
<circle cx="282" cy="198" r="4.65"/>
<circle cx="369" cy="102" r="4.65"/>
<circle cx="379" cy="101" r="4.65"/>
<circle cx="388" cy="101" r="4.65"/>
<circle cx="392" cy="107.6" r="4.65"/>
<circle cx="371" cy="109" r="4.65"/>
<circle cx="373" cy="115.6" r="4.65"/>
<circle cx="362" cy="127" r="4.65"/>
<circle cx="369" cy="129.6" r="4.65"/>
<circle cx="412" cy="105" r="4.65"/>
<circle cx="441" cy="124" r="4.65"/>
<circle cx="440.6" cy="129.6" r="4.65"/>
<circle cx="445" cy="129.6" r="4.65"/>
<circle cx="440" cy="154.4" r="4.65"/>
<circle cx="514" cy="108" r="4.65"/>
<circle cx="538" cy="187.4" r="4.65"/>
<circle cx="174.6" cy="237" r="4.65"/>
<circle cx="251" cy="209.4" r="4.65"/>
<circle cx="282" cy="201" r="4.65"/>
<circle cx="210.6" cy="358.4" r="4.65"/>
</g>
</g>
<ellipse cx="299.2" cy="193.1" rx="139.6" ry="41.3" transform="rotate(-47.3 299.2 193.1)" fill="none" stroke="#3b5f93" stroke-width="3.9"/>
<text class="tk" x="77" y="12.1" text-anchor="end">15.70</text>
<text class="tk" x="77" y="67.2" text-anchor="end">15.68</text>
<text class="tk" x="77" y="122.1" text-anchor="end">15.66</text>
<text class="tk" x="77" y="177.2" text-anchor="end">15.64</text>
<text class="tk" x="77" y="232.2" text-anchor="end">15.62</text>
<text class="tk" x="77" y="287.2" text-anchor="end">15.60</text>
<text class="tk" x="77" y="342.2" text-anchor="end">15.58</text>
<text class="tk" x="77" y="397.2" text-anchor="end">15.56</text>
<text class="tk" x="91" y="446.3" text-anchor="middle">18.0</text>
<text class="tk" x="186.4" y="446.3" text-anchor="middle">18.2</text>
<text class="tk" x="281.8" y="446.3" text-anchor="middle">18.4</text>
<text class="tk" x="377.2" y="446.3" text-anchor="middle">18.6</text>
<text class="tk" x="472.6" y="446.3" text-anchor="middle">18.8</text>
<text class="tk" x="568" y="446.3" text-anchor="middle">19.0</text>
<text class="tk" x="663.4" y="446.3" text-anchor="middle">19.2</text>
<text class="ti" x="377" y="486.5" text-anchor="middle"><tspan class="su" dy="-8.3">206</tspan><tspan dy="8.3">Pb/</tspan><tspan class="su" dy="-8.3">204</tspan><tspan dy="8.3">Pb</tspan></text>
<text class="ti" transform="translate(19.1 213.3) rotate(-90)" text-anchor="middle"><tspan class="su" dy="-8.3">207</tspan><tspan dy="8.3">Pb/</tspan><tspan class="su" dy="-8.3">204</tspan><tspan dy="8.3">Pb</tspan></text>
<rect x="451.1" y="296.3" width="214.9" height="127.2" fill="#fff" stroke="#000" stroke-width="1.3"/>
<use href="#d" x="480.6" y="317.3" fill="#00ffff" stroke="#000" stroke-width="1.1"/>
<use href="#gd" x="480.6" y="338"/>
<use href="#mc" x="480.6" y="358.5"/>
<use href="#yc" x="480.6" y="379.7"/>
<circle cx="480.6" cy="401.8" r="4.65" fill="#0000ff" stroke="#000018" stroke-width="1.5"/>
<text class="lg" x="508.2" y="323.1">Cu ores S-W Spain</text>
<text class="lg" x="508.2" y="343.8">Cypriot ores</text>
<text class="lg" x="508.2" y="364.3">Massif Central</text>
<text class="lg" x="508.2" y="385.5">Poland: DSO</text>
<text class="lg" x="508.2" y="407.6">Switzerland: Valais</text>
<g stroke="#000" stroke-width="1" fill="none">
<path d="M211.6,513.8V932.1"/>
<path d="M326.1,513.8V932.1"/>
<path d="M440.6,513.8V932.1"/>
<path d="M555.1,513.8V932.1"/>
<path d="M91.2,596.3H669.6"/>
<path d="M91.2,678.8H669.6"/>
<path d="M91.2,761.4H669.6"/>
<path d="M91.2,843.9H669.6"/>
</g>
<g stroke="#000" stroke-width="1.25" fill="none">
<rect x="97.2" y="513.8" width="572.4" height="412.6"/>
<path d="M97.2,926.4V932.1 M669.6,926.4V932.1 M91.2,926.4H97.2"/>
</g>
<g clip-path="url(#cb)">
<g fill="#00ffff" stroke="#000" stroke-width="1.35">
<use href="#d" x="186.4" y="886.5"/>
<use href="#d" x="189.8" y="883.9"/>
<use href="#d" x="205.6" y="834.8"/>
<use href="#d" x="192.4" y="881.5"/>
<use href="#d" x="187.7" y="874.1"/>
<use href="#d" x="199.6" y="877.1"/>
<use href="#d" x="195" y="880.8"/>
<use href="#d" x="187.8" y="884.4"/>
<use href="#d" x="211.9" y="839"/>
<use href="#d" x="205.7" y="880.8"/>
<use href="#d" x="204.4" y="863.1"/>
<use href="#d" x="201.4" y="868.4"/>
<use href="#d" x="194.1" y="876.3"/>
<use href="#d" x="202.1" y="872.5"/>
<use href="#d" x="185.3" y="873.9"/>
<use href="#d" x="189.4" y="878.2"/>
<use href="#d" x="260" y="581.8"/>
<use href="#d" x="296.8" y="597"/>
<use href="#d" x="300.8" y="605"/>
<use href="#d" x="326.8" y="621"/>
<use href="#d" x="322" y="624.2"/>
<use href="#d" x="324.8" y="627"/>
<use href="#d" x="251.2" y="629.4"/>
<use href="#d" x="290.8" y="636.6"/>
<use href="#d" x="226" y="646.2"/>
<use href="#d" x="348" y="603"/>
<use href="#d" x="358.6" y="615.6"/>
<use href="#d" x="352.6" y="626.4"/>
<use href="#d" x="329" y="621"/>
<use href="#d" x="358.6" y="637"/>
<use href="#d" x="354" y="633"/>
<use href="#d" x="338.6" y="673"/>
<use href="#d" x="347.4" y="747"/>
<use href="#d" x="329" y="766"/>
<use href="#d" x="255" y="681"/>
<use href="#d" x="241" y="690.4"/>
<use href="#d" x="193.6" y="695"/>
<use href="#d" x="297" y="687"/>
<use href="#d" x="291.4" y="692.4"/>
<use href="#d" x="292.4" y="703"/>
<use href="#d" x="221" y="710"/>
<use href="#d" x="213" y="714"/>
<use href="#d" x="245" y="709"/>
<use href="#d" x="258" y="707"/>
<use href="#d" x="267" y="706"/>
<use href="#d" x="289" y="709"/>
<use href="#d" x="281" y="713"/>
<use href="#d" x="274" y="720"/>
<use href="#d" x="282" y="719"/>
<use href="#d" x="198" y="725"/>
<use href="#d" x="217" y="724"/>
<use href="#d" x="235" y="734"/>
<use href="#d" x="217" y="736"/>
<use href="#d" x="269.6" y="729.6"/>
<use href="#d" x="278" y="735"/>
<use href="#d" x="283" y="730"/>
<use href="#d" x="212" y="744"/>
<use href="#d" x="255" y="742"/>
<use href="#d" x="252" y="745"/>
<use href="#d" x="192" y="745"/>
<use href="#d" x="236" y="751"/>
<use href="#d" x="213" y="756"/>
<use href="#d" x="201" y="758"/>
<use href="#d" x="217.6" y="763"/>
<use href="#d" x="288" y="766"/>
<use href="#d" x="278" y="766"/>
<use href="#d" x="271" y="765"/>
<use href="#d" x="192" y="764"/>
<use href="#d" x="317.6" y="717"/>
<use href="#d" x="313" y="759"/>
<use href="#d" x="213" y="772"/>
<use href="#d" x="203" y="775"/>
<use href="#d" x="264" y="771"/>
<use href="#d" x="225" y="776"/>
<use href="#d" x="195" y="774"/>
<use href="#d" x="240" y="764"/>
<use href="#d" x="298" y="735"/>
<use href="#d" x="264" y="754"/>
<use href="#d" x="307" y="750"/>
<use href="#d" x="212" y="749"/>
<use href="#d" x="196" y="782"/>
<use href="#d" x="204" y="784"/>
<use href="#d" x="212" y="782"/>
<use href="#d" x="221" y="783"/>
<use href="#d" x="232" y="784"/>
<use href="#d" x="240" y="787"/>
<use href="#d" x="250" y="782"/>
<use href="#d" x="258" y="784"/>
<use href="#d" x="264" y="782"/>
<use href="#d" x="261" y="789"/>
<use href="#d" x="267.6" y="794"/>
<use href="#d" x="306" y="784"/>
<use href="#d" x="258" y="799"/>
<use href="#d" x="242" y="804"/>
<use href="#d" x="234" y="795"/>
<use href="#d" x="231" y="799"/>
<use href="#d" x="217" y="790"/>
<use href="#d" x="210" y="792"/>
<use href="#d" x="200" y="791"/>
<use href="#d" x="194" y="798"/>
<use href="#d" x="204" y="799"/>
<use href="#d" x="214" y="800"/>
<use href="#d" x="222" y="802"/>
<use href="#d" x="198" y="806"/>
<use href="#d" x="208" y="808"/>
<use href="#d" x="218" y="810"/>
<use href="#d" x="227" y="817"/>
<use href="#d" x="196" y="814"/>
<use href="#d" x="204" y="816"/>
<use href="#d" x="213" y="818"/>
<use href="#d" x="220" y="823"/>
<use href="#d" x="194" y="823"/>
<use href="#d" x="202" y="825"/>
<use href="#d" x="210" y="827"/>
<use href="#d" x="218" y="831"/>
<use href="#d" x="233" y="831.6"/>
<use href="#d" x="228" y="833"/>
<use href="#d" x="196" y="832"/>
<use href="#d" x="204" y="834"/>
<use href="#d" x="212" y="836"/>
<use href="#d" x="220" y="838"/>
<use href="#d" x="198" y="841"/>
<use href="#d" x="206" y="843"/>
<use href="#d" x="214" y="845"/>
<use href="#d" x="194" y="849"/>
<use href="#d" x="202" y="851"/>
<use href="#d" x="210" y="853"/>
<use href="#d" x="221" y="855"/>
<use href="#d" x="231" y="851.6"/>
<use href="#d" x="204" y="860"/>
<use href="#d" x="211" y="864"/>
<use href="#d" x="195" y="868"/>
<use href="#d" x="203" y="870"/>
<use href="#d" x="211" y="871"/>
<use href="#d" x="198" y="877"/>
<use href="#d" x="206" y="878"/>
<use href="#d" x="253" y="817.6"/>
<use href="#d" x="245.6" y="822.4"/>
<use href="#d" x="264" y="822.4"/>
<use href="#d" x="274.6" y="817.6"/>
<use href="#d" x="279" y="824"/>
<use href="#d" x="300.6" y="803"/>
<use href="#d" x="292.6" y="846"/>
<use href="#d" x="127.9" y="822.2"/>
<use href="#d" x="139.5" y="822.5"/>
<use href="#d" x="136" y="854.2"/>
<use href="#d" x="128.2" y="860.7"/>
<use href="#d" x="122.9" y="865.7"/>
<use href="#d" x="152.8" y="871"/>
<use href="#d" x="118.8" y="910.5"/>
<use href="#d" x="180.2" y="783"/>
<use href="#d" x="187" y="786"/>
<use href="#d" x="184" y="791.3"/>
<use href="#d" x="175.7" y="794.3"/>
<use href="#d" x="170.4" y="801.9"/>
<use href="#d" x="175" y="802.6"/>
<use href="#d" x="189.3" y="809.4"/>
<use href="#d" x="177.2" y="818.5"/>
<use href="#d" x="167.4" y="821.9"/>
<use href="#d" x="181" y="825.2"/>
<use href="#d" x="171.9" y="829.8"/>
<use href="#d" x="181.7" y="835.1"/>
<use href="#d" x="180.2" y="844.1"/>
<use href="#d" x="181.7" y="852.4"/>
<use href="#d" x="175.7" y="859.2"/>
<use href="#d" x="174.2" y="865.2"/>
<use href="#d" x="180.2" y="874.7"/>
<use href="#d" x="186.3" y="876.5"/>
<use href="#d" x="187" y="884.1"/>
<use href="#d" x="184" y="889.4"/>
<use href="#d" x="190.8" y="798.1"/>
<use href="#d" x="190" y="817.7"/>
<use href="#d" x="188.5" y="855.4"/>
<use href="#d" x="190" y="873.5"/>
<use href="#d" x="187.6" y="757.8"/>
<use href="#d" x="185.4" y="762.9"/>
<use href="#d" x="182.5" y="778.2"/>
<use href="#d" x="179.6" y="784.1"/>
<use href="#d" x="153" y="871"/>
<use href="#d" x="175" y="864"/>
<use href="#d" x="176" y="860"/>
<use href="#d" x="188" y="860"/>
<use href="#d" x="180" y="874"/>
<use href="#d" x="187" y="876"/>
<use href="#d" x="193" y="873"/>
<use href="#d" x="200" y="869"/>
<use href="#d" x="210" y="869.6"/>
<use href="#d" x="198" y="880"/>
<use href="#d" x="207" y="882.4"/>
<use href="#d" x="190" y="882"/>
<use href="#d" x="186" y="885"/>
<use href="#d" x="183.6" y="889.6"/>
<use href="#d" x="198" y="887.6"/>
<use href="#d" x="199.6" y="893.6"/>
<use href="#d" x="209.4" y="896.4"/>
<use href="#d" x="206" y="864"/>
<use href="#d" x="213" y="808"/>
<use href="#d" x="204.7" y="821.8"/>
<use href="#d" x="192.1" y="840.9"/>
<use href="#d" x="203.8" y="828.4"/>
<use href="#d" x="219.7" y="805.9"/>
<use href="#d" x="202.5" y="827"/>
<use href="#d" x="218.6" y="803.4"/>
<use href="#d" x="199.7" y="823.7"/>
<use href="#d" x="194.1" y="840"/>
<use href="#d" x="200.5" y="828"/>
<use href="#d" x="225.8" y="787.4"/>
<use href="#d" x="218.3" y="798.9"/>
<use href="#d" x="185.8" y="845.3"/>
<use href="#d" x="224" y="790.3"/>
<use href="#d" x="223.8" y="793.6"/>
<use href="#d" x="217.6" y="798"/>
<use href="#d" x="192.6" y="849.1"/>
<use href="#d" x="193.9" y="836"/>
<use href="#d" x="200.3" y="824.2"/>
<use href="#d" x="211.1" y="807.8"/>
<use href="#d" x="198.2" y="829.3"/>
<use href="#d" x="217.7" y="803.8"/>
<use href="#d" x="225.2" y="790.4"/>
<use href="#d" x="209.2" y="823.4"/>
<use href="#d" x="201.8" y="823.5"/>
<use href="#d" x="206.2" y="819.2"/>
<use href="#d" x="215.6" y="800.5"/>
<use href="#d" x="214.2" y="799.9"/>
<use href="#d" x="196.9" y="825.9"/>
<use href="#d" x="191.3" y="843.3"/>
<use href="#d" x="196" y="834.1"/>
<use href="#d" x="206.7" y="809.2"/>
<use href="#d" x="222.5" y="794.4"/>
<use href="#d" x="191.8" y="844.8"/>
<use href="#d" x="212.4" y="802.9"/>
<use href="#d" x="198.9" y="822.8"/>
<use href="#d" x="216.1" y="804.4"/>
<use href="#d" x="190.9" y="843.5"/>
<use href="#d" x="206.5" y="810.2"/>
<use href="#d" x="194.1" y="836"/>
<use href="#d" x="193.1" y="842.4"/>
<use href="#d" x="194.6" y="822.9"/>
<use href="#d" x="207.6" y="815"/>
<use href="#d" x="212.5" y="808.4"/>
<use href="#d" x="204.8" y="822.7"/>
<use href="#d" x="224.2" y="792.2"/>
<use href="#d" x="194.5" y="840"/>
<use href="#d" x="210.3" y="814"/>
<use href="#d" x="218.8" y="792.8"/>
<use href="#d" x="217.3" y="800.6"/>
<use href="#d" x="207.7" y="811.4"/>
<use href="#d" x="201.6" y="825.9"/>
<use href="#d" x="192.4" y="832.9"/>
<use href="#d" x="195.7" y="837.8"/>
<use href="#d" x="213.9" y="805.6"/>
<use href="#d" x="193.4" y="838.8"/>
<use href="#d" x="190.6" y="846"/>
<use href="#d" x="206.5" y="814.5"/>
<use href="#d" x="190.5" y="840.1"/>
<use href="#d" x="196.8" y="827.3"/>
</g>
<g>
<use href="#gd" x="381.5" y="740.3"/>
<use href="#gd" x="400.8" y="742.4"/>
<use href="#gd" x="396.7" y="734.5"/>
<use href="#gd" x="381.2" y="763.6"/>
<use href="#gd" x="398.7" y="731.8"/>
<use href="#gd" x="453.8" y="667.6"/>
<use href="#gd" x="345.5" y="779.7"/>
<use href="#gd" x="464.7" y="669"/>
<use href="#gd" x="390.5" y="733.1"/>
<use href="#gd" x="373" y="739"/>
<use href="#gd" x="355.3" y="764.1"/>
<use href="#gd" x="467.6" y="658.7"/>
<use href="#gd" x="466.7" y="666.6"/>
<use href="#gd" x="358.6" y="781.5"/>
<use href="#gd" x="450.7" y="665.2"/>
<use href="#gd" x="367.2" y="765.1"/>
<use href="#gd" x="397.3" y="737.8"/>
<use href="#gd" x="373.1" y="758.2"/>
<use href="#gd" x="410" y="714.3"/>
<use href="#gd" x="372.3" y="754.9"/>
<use href="#gd" x="347.3" y="775.9"/>
<use href="#gd" x="354.5" y="781.6"/>
<use href="#gd" x="415" y="702.2"/>
<use href="#gd" x="381.7" y="737.9"/>
<use href="#gd" x="395.3" y="728"/>
<use href="#gd" x="406.2" y="730.8"/>
<use href="#gd" x="411.2" y="716.9"/>
<use href="#gd" x="441.1" y="680.5"/>
<use href="#gd" x="407.3" y="722.7"/>
<use href="#gd" x="404.4" y="729.3"/>
<use href="#gd" x="415.4" y="721.3"/>
<use href="#gd" x="355.2" y="777.1"/>
<use href="#gd" x="414.7" y="720.2"/>
<use href="#gd" x="394.9" y="736.3"/>
<use href="#gd" x="458.1" y="678.9"/>
<use href="#gd" x="456.3" y="676.2"/>
<use href="#gd" x="413.9" y="728.4"/>
<use href="#gd" x="366.3" y="769.3"/>
<use href="#gd" x="356" y="769.7"/>
<use href="#gd" x="369.3" y="766.3"/>
<use href="#gd" x="451.9" y="679"/>
<use href="#gd" x="462.4" y="664.3"/>
<use href="#gd" x="409.3" y="716.9"/>
<use href="#gd" x="378.9" y="759.2"/>
<use href="#gd" x="431.5" y="698.2"/>
<use href="#gd" x="448.5" y="683.8"/>
<use href="#gd" x="423.8" y="693.4"/>
<use href="#gd" x="406.6" y="707.4"/>
<use href="#gd" x="367" y="775.2"/>
<use href="#gd" x="394.7" y="734.5"/>
<use href="#gd" x="464.9" y="654.3"/>
<use href="#gd" x="439.4" y="682.4"/>
<use href="#gd" x="445.9" y="692.6"/>
<use href="#gd" x="366.9" y="749.5"/>
<use href="#gd" x="415.9" y="707.7"/>
<use href="#gd" x="352.6" y="786.2"/>
<use href="#gd" x="419.8" y="699"/>
<use href="#gd" x="460" y="668.8"/>
<use href="#gd" x="427.6" y="699.4"/>
<use href="#gd" x="394.4" y="738.4"/>
<use href="#gd" x="369.3" y="752.1"/>
<use href="#gd" x="368.1" y="756.2"/>
<use href="#gd" x="367.2" y="769.3"/>
<use href="#gd" x="372.7" y="766.3"/>
<use href="#gd" x="452.8" y="674.2"/>
<use href="#gd" x="385.2" y="752.9"/>
<use href="#gd" x="415.5" y="705.2"/>
<use href="#gd" x="405.6" y="732.3"/>
<use href="#gd" x="378.3" y="752"/>
<use href="#gd" x="411" y="711.6"/>
<use href="#gd" x="356.3" y="777.4"/>
<use href="#gd" x="416.1" y="714.4"/>
<use href="#gd" x="367.2" y="756.4"/>
<use href="#gd" x="425.5" y="702.7"/>
<use href="#gd" x="385.2" y="741.9"/>
<use href="#gd" x="454.3" y="673.6"/>
<use href="#gd" x="351.7" y="790.2"/>
<use href="#gd" x="401.7" y="725.2"/>
<use href="#gd" x="378.3" y="754.7"/>
<use href="#gd" x="353.7" y="773.6"/>
<use href="#gd" x="432.9" y="699.7"/>
<use href="#gd" x="375.1" y="746.1"/>
<use href="#gd" x="440.9" y="679.5"/>
<use href="#gd" x="428.1" y="703.2"/>
<use href="#gd" x="458.2" y="672.8"/>
<use href="#gd" x="371.4" y="757.8"/>
<use href="#gd" x="439.1" y="680"/>
<use href="#gd" x="392.4" y="736.3"/>
<use href="#gd" x="419.8" y="703.2"/>
<use href="#gd" x="461.4" y="650.4"/>
<use href="#gd" x="433.4" y="697.6"/>
<use href="#gd" x="432.5" y="688.1"/>
<use href="#gd" x="372" y="755.6"/>
<use href="#gd" x="459.9" y="666.5"/>
<use href="#gd" x="364.4" y="773.9"/>
<use href="#gd" x="367" y="766.3"/>
<use href="#gd" x="426" y="693"/>
<use href="#gd" x="443.1" y="691.6"/>
<use href="#gd" x="390.8" y="742.3"/>
<use href="#gd" x="464.9" y="673.5"/>
<use href="#gd" x="553.3" y="593.1"/>
<use href="#gd" x="489.5" y="641.1"/>
<use href="#gd" x="544.8" y="600.2"/>
<use href="#gd" x="541.1" y="596.2"/>
<use href="#gd" x="485.5" y="651.6"/>
<use href="#gd" x="489.3" y="637.2"/>
<use href="#gd" x="473.7" y="651.9"/>
<use href="#gd" x="534.1" y="601.4"/>
<use href="#gd" x="550.7" y="579.9"/>
<use href="#gd" x="529.2" y="615.3"/>
<use href="#gd" x="507.5" y="626.7"/>
<use href="#gd" x="530.9" y="603.3"/>
<use href="#gd" x="554.8" y="598.9"/>
<use href="#gd" x="487.4" y="645.7"/>
<use href="#gd" x="538.8" y="602"/>
<use href="#gd" x="508.9" y="613.4"/>
<use href="#gd" x="483.8" y="638.4"/>
<use href="#gd" x="550" y="591.7"/>
<use href="#gd" x="500.2" y="633.7"/>
<use href="#gd" x="520.4" y="622.8"/>
<use href="#gd" x="474.8" y="653.5"/>
<use href="#gd" x="537.2" y="598.6"/>
<use href="#gd" x="418.7" y="682.8"/>
<use href="#gd" x="391.6" y="744.5"/>
<use href="#gd" x="411.6" y="680.1"/>
<use href="#gd" x="380.9" y="739.3"/>
<use href="#gd" x="621.9" y="603.1"/>
<use href="#gd" x="397.2" y="749.7"/>
<use href="#gd" x="359.7" y="772.1"/>
<use href="#gd" x="352.5" y="783.8"/>
<use href="#gd" x="400.7" y="760.6"/>
<use href="#gd" x="483.6" y="642.6"/>
<use href="#gd" x="368.6" y="769.4"/>
<use href="#gd" x="349.2" y="773.9"/>
<use href="#gd" x="427.6" y="703.3"/>
<use href="#gd" x="392.1" y="727.6"/>
<use href="#gd" x="372.6" y="778.5"/>
<use href="#gd" x="409" y="689.9"/>
<use href="#gd" x="386.1" y="740.2"/>
<use href="#gd" x="365.8" y="786.4"/>
<use href="#gd" x="400.9" y="725.5"/>
<use href="#gd" x="360.8" y="767.5"/>
<use href="#gd" x="413.6" y="714.3"/>
<use href="#gd" x="401.7" y="755.7"/>
<use href="#gd" x="471.9" y="662.8"/>
<use href="#gd" x="360.3" y="801.6"/>
<use href="#gd" x="536.7" y="598.1"/>
<use href="#gd" x="627.6" y="606.5"/>
<use href="#gd" x="328.6" y="812.8"/>
<use href="#gd" x="622.9" y="611.9"/>
<use href="#gd" x="389.6" y="778.6"/>
<use href="#gd" x="531.3" y="603"/>
<use href="#gd" x="554" y="588.5"/>
<use href="#gd" x="369.9" y="794.5"/>
<use href="#gd" x="507.8" y="607.9"/>
<use href="#gd" x="537.7" y="600.7"/>
<use href="#gd" x="399.3" y="719.3"/>
<use href="#gd" x="410.6" y="674"/>
<use href="#gd" x="412.7" y="678"/>
<use href="#gd" x="406.9" y="723.3"/>
<use href="#gd" x="617.3" y="611.6"/>
<use href="#gd" x="624.4" y="603.3"/>
<use href="#gd" x="418.9" y="725.4"/>
<use href="#gd" x="381.7" y="780.9"/>
<use href="#gd" x="525.9" y="609.3"/>
<use href="#gd" x="551.6" y="578.7"/>
<use href="#gd" x="520" y="610.1"/>
<use href="#gd" x="538.5" y="606.1"/>
<use href="#gd" x="466" y="605.6"/>
<use href="#gd" x="459" y="640"/>
<use href="#gd" x="449" y="644"/>
<use href="#gd" x="438" y="638"/>
<use href="#gd" x="450" y="654"/>
<use href="#gd" x="437" y="656"/>
<use href="#gd" x="461" y="664"/>
<use href="#gd" x="457" y="668"/>
<use href="#gd" x="453" y="673"/>
<use href="#gd" x="412" y="675"/>
<use href="#gd" x="407" y="674"/>
<use href="#gd" x="424" y="674"/>
<use href="#gd" x="415" y="679"/>
<use href="#gd" x="409" y="681"/>
<use href="#gd" x="417" y="682"/>
<use href="#gd" x="405" y="689"/>
<use href="#gd" x="411" y="688"/>
<use href="#gd" x="433" y="682"/>
<use href="#gd" x="441" y="686"/>
<use href="#gd" x="429" y="690"/>
<use href="#gd" x="458" y="691"/>
<use href="#gd" x="466" y="700"/>
<use href="#gd" x="389" y="705"/>
<use href="#gd" x="398" y="712"/>
<use href="#gd" x="407" y="704"/>
<use href="#gd" x="415" y="699"/>
<use href="#gd" x="423" y="695"/>
<use href="#gd" x="437" y="699"/>
<use href="#gd" x="445" y="696"/>
<use href="#gd" x="417" y="706"/>
<use href="#gd" x="425" y="704"/>
<use href="#gd" x="433" y="706"/>
<use href="#gd" x="438" y="711"/>
<use href="#gd" x="385" y="719"/>
<use href="#gd" x="393" y="722"/>
<use href="#gd" x="401" y="719"/>
<use href="#gd" x="409" y="714"/>
<use href="#gd" x="417" y="714"/>
<use href="#gd" x="425" y="713"/>
<use href="#gd" x="437" y="721"/>
<use href="#gd" x="435" y="729"/>
<use href="#gd" x="409" y="723"/>
<use href="#gd" x="417" y="723"/>
<use href="#gd" x="423" y="720"/>
<use href="#gd" x="401" y="728"/>
<use href="#gd" x="393" y="730"/>
<use href="#gd" x="385" y="728"/>
<use href="#gd" x="372" y="735"/>
<use href="#gd" x="380" y="736"/>
<use href="#gd" x="388" y="738"/>
<use href="#gd" x="397" y="740"/>
<use href="#gd" x="407" y="734"/>
<use href="#gd" x="413" y="730"/>
<use href="#gd" x="363.4" y="741.6"/>
<use href="#gd" x="371" y="746"/>
<use href="#gd" x="380" y="744"/>
<use href="#gd" x="389" y="746"/>
<use href="#gd" x="398" y="747"/>
<use href="#gd" x="405" y="744"/>
<use href="#gd" x="442.6" y="748"/>
<use href="#gd" x="422.4" y="757"/>
<use href="#gd" x="407" y="755"/>
<use href="#gd" x="399" y="754"/>
<use href="#gd" x="389" y="754"/>
<use href="#gd" x="382" y="756"/>
<use href="#gd" x="372" y="754"/>
<use href="#gd" x="364" y="759"/>
<use href="#gd" x="375" y="762"/>
<use href="#gd" x="385" y="764"/>
<use href="#gd" x="395" y="762"/>
<use href="#gd" x="404" y="761"/>
<use href="#gd" x="355" y="768"/>
<use href="#gd" x="362" y="766"/>
<use href="#gd" x="371" y="770"/>
<use href="#gd" x="379" y="772"/>
<use href="#gd" x="389" y="771"/>
<use href="#gd" x="399" y="768"/>
<use href="#gd" x="343" y="773"/>
<use href="#gd" x="351" y="776"/>
<use href="#gd" x="359" y="775"/>
<use href="#gd" x="369" y="778"/>
<use href="#gd" x="381" y="779"/>
<use href="#gd" x="407" y="775"/>
<use href="#gd" x="397" y="777"/>
<use href="#gd" x="338" y="779.6"/>
<use href="#gd" x="415" y="779.6"/>
<use href="#gd" x="323" y="810"/>
<use href="#gd" x="329" y="823"/>
<use href="#gd" x="329" y="833"/>
<use href="#gd" x="338" y="783"/>
<use href="#gd" x="355" y="782"/>
<use href="#gd" x="365" y="784"/>
<use href="#gd" x="373" y="782"/>
<use href="#gd" x="381" y="782"/>
<use href="#gd" x="389" y="781"/>
<use href="#gd" x="407" y="780"/>
<use href="#gd" x="415" y="784.4"/>
<use href="#gd" x="398" y="788"/>
<use href="#gd" x="391" y="787"/>
<use href="#gd" x="349" y="788"/>
<use href="#gd" x="359" y="791"/>
<use href="#gd" x="369" y="792"/>
<use href="#gd" x="377" y="795"/>
<use href="#gd" x="390.6" y="797"/>
<use href="#gd" x="344" y="796"/>
<use href="#gd" x="337" y="800"/>
<use href="#gd" x="350" y="803"/>
<use href="#gd" x="362" y="799"/>
<use href="#gd" x="368" y="801"/>
<use href="#gd" x="333" y="808"/>
<use href="#gd" x="341" y="811"/>
<use href="#gd" x="352" y="812"/>
<use href="#gd" x="362" y="813"/>
<use href="#gd" x="370.4" y="810"/>
<use href="#gd" x="329" y="815"/>
<use href="#gd" x="357" y="822"/>
<use href="#gd" x="366" y="819"/>
<use href="#gd" x="372" y="823.6"/>
<use href="#gd" x="329" y="823"/>
<use href="#gd" x="362" y="829"/>
<use href="#gd" x="356" y="834"/>
<use href="#gd" x="330" y="834"/>
<use href="#gd" x="348.4" y="843"/>
<use href="#gd" x="351" y="849"/>
<use href="#gd" x="338.4" y="860"/>
<use href="#gd" x="337" y="874"/>
<use href="#gd" x="357" y="803"/>
<use href="#gd" x="550" y="515"/>
<use href="#gd" x="565" y="527.6"/>
<use href="#gd" x="584" y="534"/>
<use href="#gd" x="543" y="537.4"/>
<use href="#gd" x="528.4" y="556"/>
<use href="#gd" x="525.6" y="564.6"/>
<use href="#gd" x="568.4" y="564.6"/>
<use href="#gd" x="559" y="569"/>
<use href="#gd" x="500" y="574.6"/>
<use href="#gd" x="546" y="573"/>
<use href="#gd" x="536.4" y="577.4"/>
<use href="#gd" x="585" y="575.4"/>
<use href="#gd" x="550" y="579"/>
<use href="#gd" x="565" y="580"/>
<use href="#gd" x="558" y="582"/>
<use href="#gd" x="529.6" y="582.6"/>
<use href="#gd" x="539" y="582"/>
<use href="#gd" x="547" y="584"/>
<use href="#gd" x="552" y="587"/>
<use href="#gd" x="570.6" y="591.4"/>
<use href="#gd" x="487" y="594"/>
<use href="#gd" x="529" y="594"/>
<use href="#gd" x="538" y="596"/>
<use href="#gd" x="556" y="595"/>
<use href="#gd" x="552" y="599"/>
<use href="#gd" x="520" y="601"/>
<use href="#gd" x="484" y="601"/>
<use href="#gd" x="598" y="600"/>
<use href="#gd" x="509" y="604"/>
<use href="#gd" x="535" y="601"/>
<use href="#gd" x="468" y="604"/>
<use href="#gd" x="543" y="604"/>
<use href="#gd" x="528" y="603"/>
<use href="#gd" x="614" y="553.6"/>
<use href="#gd" x="613.6" y="558"/>
<use href="#gd" x="638.6" y="551.4"/>
<use href="#gd" x="667.4" y="557.4"/>
<use href="#gd" x="665" y="559.4"/>
<use href="#gd" x="608.6" y="567"/>
<use href="#gd" x="644.4" y="569"/>
<use href="#gd" x="631" y="575.4"/>
<use href="#gd" x="642" y="576"/>
<use href="#gd" x="651.6" y="576"/>
<use href="#gd" x="652" y="579.4"/>
<use href="#gd" x="625.4" y="584.4"/>
<use href="#gd" x="634" y="585"/>
<use href="#gd" x="641" y="584"/>
<use href="#gd" x="634" y="593"/>
<use href="#gd" x="630" y="596"/>
<use href="#gd" x="640" y="597.4"/>
<use href="#gd" x="626" y="601"/>
<use href="#gd" x="621" y="604.6"/>
<use href="#gd" x="469" y="606"/>
<use href="#gd" x="502" y="608"/>
<use href="#gd" x="510" y="606"/>
<use href="#gd" x="519" y="607"/>
<use href="#gd" x="534" y="611"/>
<use href="#gd" x="541" y="605"/>
<use href="#gd" x="594" y="609"/>
<use href="#gd" x="475" y="617"/>
<use href="#gd" x="483" y="618"/>
<use href="#gd" x="488" y="623"/>
<use href="#gd" x="497" y="621"/>
<use href="#gd" x="522" y="617"/>
<use href="#gd" x="532" y="620"/>
<use href="#gd" x="543" y="626.4"/>
<use href="#gd" x="596.4" y="623"/>
<use href="#gd" x="509" y="628"/>
<use href="#gd" x="493" y="631"/>
<use href="#gd" x="481" y="634"/>
<use href="#gd" x="500" y="634"/>
<use href="#gd" x="586" y="638"/>
<use href="#gd" x="569" y="644"/>
<use href="#gd" x="508" y="639"/>
<use href="#gd" x="492" y="641"/>
<use href="#gd" x="476" y="642"/>
<use href="#gd" x="499" y="648"/>
<use href="#gd" x="489" y="648"/>
<use href="#gd" x="473" y="650"/>
<use href="#gd" x="481" y="653"/>
<use href="#gd" x="466" y="659"/>
<use href="#gd" x="476" y="662"/>
<use href="#gd" x="473" y="669"/>
<use href="#gd" x="519" y="667.4"/>
<use href="#gd" x="531.6" y="666"/>
<use href="#gd" x="470.4" y="689"/>
<use href="#gd" x="466" y="700"/>
<use href="#gd" x="469" y="661"/>
<use href="#gd" x="484" y="645"/>
<use href="#gd" x="526" y="611"/>
<use href="#gd" x="514" y="613"/>
<use href="#gd" x="611" y="611"/>
<use href="#gd" x="621" y="609"/>
<use href="#gd" x="625" y="606"/>
<use href="#gd" x="620" y="611"/>
<use href="#gd" x="328.4" y="883.6"/>
</g>
<g>
<use href="#mc" x="364.3" y="645.2"/>
<use href="#mc" x="379.7" y="647.1"/>
<use href="#mc" x="362.5" y="642.2"/>
<use href="#mc" x="367.7" y="648"/>
<use href="#mc" x="366.1" y="656.3"/>
<use href="#mc" x="363" y="648.8"/>
<use href="#mc" x="373.8" y="640"/>
<use href="#mc" x="371.2" y="657"/>
<use href="#mc" x="356.9" y="639.4"/>
<use href="#mc" x="358.8" y="634.9"/>
<use href="#mc" x="367.7" y="634.9"/>
<use href="#mc" x="368" y="654.7"/>
<use href="#mc" x="355.3" y="644.1"/>
<use href="#mc" x="353.5" y="650.7"/>
<use href="#mc" x="360.6" y="644.4"/>
<use href="#mc" x="365.3" y="649.3"/>
<use href="#mc" x="362.9" y="646.1"/>
<use href="#mc" x="361.7" y="646.7"/>
<use href="#mc" x="358" y="646.4"/>
<use href="#mc" x="353.4" y="643.1"/>
<use href="#mc" x="376.5" y="646.5"/>
<use href="#mc" x="357.4" y="647.5"/>
<use href="#mc" x="359.2" y="636.1"/>
<use href="#mc" x="360.6" y="650.4"/>
<use href="#mc" x="367.3" y="645.4"/>
<use href="#mc" x="320.4" y="733.4"/>
<use href="#mc" x="334.1" y="744"/>
<use href="#mc" x="320.3" y="725.1"/>
<use href="#mc" x="317.8" y="761.8"/>
<use href="#mc" x="319.1" y="741.4"/>
<use href="#mc" x="327.3" y="740.7"/>
<use href="#mc" x="324.3" y="731"/>
<use href="#mc" x="319.7" y="755.5"/>
<use href="#mc" x="321.5" y="748.8"/>
<use href="#mc" x="315.8" y="739.8"/>
<use href="#mc" x="327.6" y="750.3"/>
<use href="#mc" x="319.3" y="746.8"/>
<use href="#mc" x="328.3" y="736.1"/>
<use href="#mc" x="328.9" y="734.8"/>
<use href="#mc" x="354.9" y="650.8"/>
<use href="#mc" x="349.5" y="654.8"/>
<use href="#mc" x="364.3" y="645.8"/>
<use href="#mc" x="357.6" y="657.5"/>
<use href="#mc" x="364" y="655.5"/>
<use href="#mc" x="347.6" y="638.1"/>
<use href="#mc" x="335.5" y="739.3"/>
<use href="#mc" x="363.7" y="649.3"/>
<use href="#mc" x="332.3" y="744.7"/>
<use href="#mc" x="366.4" y="650.6"/>
<use href="#mc" x="357.1" y="649.6"/>
<use href="#mc" x="330.4" y="737.1"/>
<use href="#mc" x="357.7" y="647.1"/>
<use href="#mc" x="361.5" y="640.8"/>
<use href="#mc" x="368.4" y="650.6"/>
<use href="#mc" x="372.3" y="643"/>
<use href="#mc" x="348.7" y="647"/>
<use href="#mc" x="358.9" y="652.6"/>
<use href="#mc" x="360.7" y="642.1"/>
<use href="#mc" x="362.6" y="648.2"/>
<use href="#mc" x="369.6" y="645.7"/>
<use href="#mc" x="362.8" y="644.7"/>
<use href="#mc" x="361" y="648.1"/>
<use href="#mc" x="326.5" y="746"/>
<use href="#mc" x="370.3" y="641.9"/>
<use href="#mc" x="372.5" y="649.9"/>
<use href="#mc" x="349.2" y="685.8"/>
<use href="#mc" x="347.1" y="637.8"/>
<use href="#mc" x="368.6" y="648.4"/>
<use href="#mc" x="376" y="641.4"/>
<use href="#mc" x="373.5" y="649.4"/>
<use href="#mc" x="362.7" y="650.8"/>
<use href="#mc" x="369.4" y="647.1"/>
<use href="#mc" x="377.7" y="644.8"/>
<use href="#mc" x="361.9" y="658.5"/>
<use href="#mc" x="352.6" y="645.5"/>
<use href="#mc" x="364.9" y="647.6"/>
<use href="#mc" x="366.1" y="643.1"/>
<use href="#mc" x="375.7" y="650.6"/>
<use href="#mc" x="363.9" y="641.2"/>
<use href="#mc" x="356.3" y="648.8"/>
<use href="#mc" x="365.5" y="648.5"/>
<use href="#mc" x="364" y="651.8"/>
<use href="#mc" x="310" y="661.8"/>
<use href="#mc" x="312.8" y="668.2"/>
<use href="#mc" x="433.4" y="601.4"/>
<use href="#mc" x="402.6" y="605.4"/>
<use href="#mc" x="393.4" y="612"/>
<use href="#mc" x="386.6" y="615"/>
<use href="#mc" x="382" y="623"/>
<use href="#mc" x="371.4" y="625.6"/>
<use href="#mc" x="367" y="633"/>
<use href="#mc" x="348" y="635"/>
<use href="#mc" x="345" y="640"/>
<use href="#mc" x="350" y="640"/>
<use href="#mc" x="401" y="630"/>
<use href="#mc" x="401" y="633.6"/>
<use href="#mc" x="411.4" y="629"/>
<use href="#mc" x="419" y="629"/>
<use href="#mc" x="427.4" y="630"/>
<use href="#mc" x="438" y="630"/>
<use href="#mc" x="445" y="629"/>
<use href="#mc" x="444.4" y="640"/>
<use href="#mc" x="425" y="644"/>
<use href="#mc" x="333" y="653"/>
<use href="#mc" x="375" y="640"/>
<use href="#mc" x="386" y="643"/>
<use href="#mc" x="379" y="646"/>
<use href="#mc" x="355" y="646"/>
<use href="#mc" x="361" y="644"/>
<use href="#mc" x="367" y="648"/>
<use href="#mc" x="371" y="644"/>
<use href="#mc" x="351" y="656"/>
<use href="#mc" x="358" y="655"/>
<use href="#mc" x="364" y="653"/>
<use href="#mc" x="353" y="662"/>
<use href="#mc" x="359" y="660"/>
<use href="#mc" x="389" y="654"/>
<use href="#mc" x="363" y="647"/>
<use href="#mc" x="366" y="645"/>
<use href="#mc" x="369" y="649"/>
<use href="#mc" x="364" y="650"/>
<use href="#mc" x="360" y="649"/>
<use href="#mc" x="372" y="647"/>
<use href="#mc" x="368" y="642"/>
<use href="#mc" x="362" y="640"/>
<use href="#mc" x="357" y="651"/>
<use href="#mc" x="374" y="651"/>
<use href="#mc" x="347" y="648"/>
<use href="#mc" x="341" y="644"/>
<use href="#mc" x="339" y="690"/>
<use href="#mc" x="348" y="687"/>
<use href="#mc" x="357" y="688"/>
<use href="#mc" x="344" y="683"/>
<use href="#mc" x="337" y="703"/>
<use href="#mc" x="355" y="715.6"/>
<use href="#mc" x="358" y="728"/>
<use href="#mc" x="332" y="732"/>
<use href="#mc" x="336" y="736"/>
<use href="#mc" x="331" y="742"/>
<use href="#mc" x="334" y="746"/>
<use href="#mc" x="355" y="748"/>
<use href="#mc" x="344" y="755"/>
<use href="#mc" x="337" y="762"/>
<use href="#mc" x="330" y="757"/>
<use href="#mc" x="333" y="697"/>
<use href="#mc" x="330" y="716"/>
<use href="#mc" x="351" y="684"/>
<use href="#mc" x="302.4" y="701"/>
<use href="#mc" x="318" y="705"/>
<use href="#mc" x="308" y="708"/>
<use href="#mc" x="306.4" y="718"/>
<use href="#mc" x="324" y="721"/>
<use href="#mc" x="329" y="710"/>
<use href="#mc" x="326" y="682"/>
<use href="#mc" x="292" y="736"/>
<use href="#mc" x="314" y="736"/>
<use href="#mc" x="320" y="735"/>
<use href="#mc" x="274" y="748"/>
<use href="#mc" x="280" y="752"/>
<use href="#mc" x="240" y="757"/>
<use href="#mc" x="235" y="768"/>
<use href="#mc" x="303" y="757"/>
<use href="#mc" x="303" y="765"/>
<use href="#mc" x="314" y="768"/>
<use href="#mc" x="257" y="772"/>
<use href="#mc" x="246" y="770"/>
<use href="#mc" x="320" y="746"/>
<use href="#mc" x="324" y="756"/>
<use href="#mc" x="324" y="766"/>
<use href="#mc" x="320" y="774"/>
<use href="#mc" x="329" y="740"/>
<use href="#mc" x="329" y="729"/>
<use href="#mc" x="328" y="749"/>
<use href="#mc" x="321.6" y="796.4"/>
<use href="#mc" x="450.4" y="514"/>
</g>
<g>
<use href="#yc" x="413.4" y="649"/>
<use href="#yc" x="388" y="660.4"/>
<use href="#yc" x="437.6" y="668"/>
<use href="#yc" x="347" y="738"/>
<use href="#yc" x="250" y="798.4"/>
</g>
<g fill="#0000ff" stroke="#000018" stroke-width="1.5">
<circle cx="413" cy="634.4" r="4.65"/>
<circle cx="431" cy="638" r="4.65"/>
<circle cx="450" cy="632.4" r="4.65"/>
<circle cx="433.6" cy="651" r="4.65"/>
<circle cx="444" cy="650" r="4.65"/>
<circle cx="428" cy="655" r="4.65"/>
<circle cx="429" cy="661" r="4.65"/>
<circle cx="443" cy="662" r="4.65"/>
<circle cx="457" cy="651" r="4.65"/>
<circle cx="399" cy="662" r="4.65"/>
<circle cx="402" cy="669" r="4.65"/>
<circle cx="383" cy="668" r="4.65"/>
<circle cx="377" cy="673" r="4.65"/>
<circle cx="371" cy="674" r="4.65"/>
<circle cx="365" cy="675" r="4.65"/>
<circle cx="344" cy="667.6" r="4.65"/>
<circle cx="366" cy="665" r="4.65"/>
<circle cx="376" cy="686" r="4.65"/>
<circle cx="354" cy="699.6" r="4.65"/>
<circle cx="349" cy="703" r="4.65"/>
<circle cx="366" cy="703.6" r="4.65"/>
<circle cx="343" cy="706" r="4.65"/>
<circle cx="336" cy="710" r="4.65"/>
<circle cx="345.4" cy="710" r="4.65"/>
<circle cx="343" cy="715" r="4.65"/>
<circle cx="337" cy="717" r="4.65"/>
<circle cx="339" cy="721" r="4.65"/>
<circle cx="336" cy="724" r="4.65"/>
<circle cx="344" cy="725.6" r="4.65"/>
<circle cx="402" cy="698.4" r="4.65"/>
<circle cx="401" cy="737.4" r="4.65"/>
<circle cx="423" cy="742.4" r="4.65"/>
<circle cx="453.4" cy="683" r="4.65"/>
<circle cx="365" cy="680" r="4.65"/>
<circle cx="300" cy="743" r="4.65"/>
<circle cx="263" cy="757" r="4.65"/>
<circle cx="256" cy="764" r="4.65"/>
<circle cx="289.4" cy="786" r="4.65"/>
<circle cx="326.4" cy="788" r="4.65"/>
<circle cx="198" cy="860" r="4.65"/>
<circle cx="241" cy="879" r="4.65"/>
<circle cx="197.6" cy="861" r="4.65"/>
<circle cx="241" cy="879.6" r="4.65"/>
<circle cx="329" cy="789" r="4.65"/>
<circle cx="482.6" cy="551" r="4.65"/>
<circle cx="552.6" cy="549.4" r="4.65"/>
<circle cx="566" cy="550" r="4.65"/>
<circle cx="661.4" cy="516.4" r="4.65"/>
<circle cx="506" cy="616.6" r="4.65"/>
<circle cx="522.4" cy="628.4" r="4.65"/>
<circle cx="467" cy="639.4" r="4.65"/>
<circle cx="501" cy="661.6" r="4.65"/>
<circle cx="517" cy="688" r="4.65"/>
<circle cx="517" cy="695" r="4.65"/>
<circle cx="522" cy="696" r="4.65"/>
<circle cx="604.6" cy="611" r="4.65"/>
<circle cx="638.6" cy="650.6" r="4.65"/>
<circle cx="634" cy="659.4" r="4.65"/>
<circle cx="516.6" cy="708.6" r="4.65"/>
</g>
</g>
<ellipse cx="343.3" cy="719.2" rx="147" ry="34.9" transform="rotate(-36 343.3 719.2)" fill="none" stroke="#3b5f93" stroke-width="3.9"/>

<text class="tk" x="82.5" y="601.8" text-anchor="end">38.8</text>
<text class="tk" x="82.5" y="684.3" text-anchor="end">38.6</text>
<text class="tk" x="82.5" y="766.9" text-anchor="end">38.4</text>
<text class="tk" x="82.5" y="849.4" text-anchor="end">38.2</text>
<text class="tk" x="82.5" y="931.9" text-anchor="end">38.0</text>
<text class="tk" x="97.2" y="954.5" text-anchor="middle">18.0</text>
<text class="tk" x="211.6" y="954.5" text-anchor="middle">18.2</text>
<text class="tk" x="326.1" y="954.5" text-anchor="middle">18.4</text>
<text class="tk" x="440.6" y="954.5" text-anchor="middle">18.6</text>
<text class="tk" x="555.1" y="954.5" text-anchor="middle">18.8</text>
<text class="tk" x="669.6" y="954.5" text-anchor="middle">19.0</text>
<text class="ti" x="383" y="993.5" text-anchor="middle"><tspan class="su" dy="-8.3">206</tspan><tspan dy="8.3">Pb/</tspan><tspan class="su" dy="-8.3">204</tspan><tspan dy="8.3">Pb</tspan></text>
<text class="ti" transform="translate(34.2 720.6) rotate(-90)" text-anchor="middle"><tspan class="su" dy="-8.3">208</tspan><tspan dy="8.3">Pb/</tspan><tspan class="su" dy="-8.3">204</tspan><tspan dy="8.3">Pb</tspan></text>
</svg></body></html>
